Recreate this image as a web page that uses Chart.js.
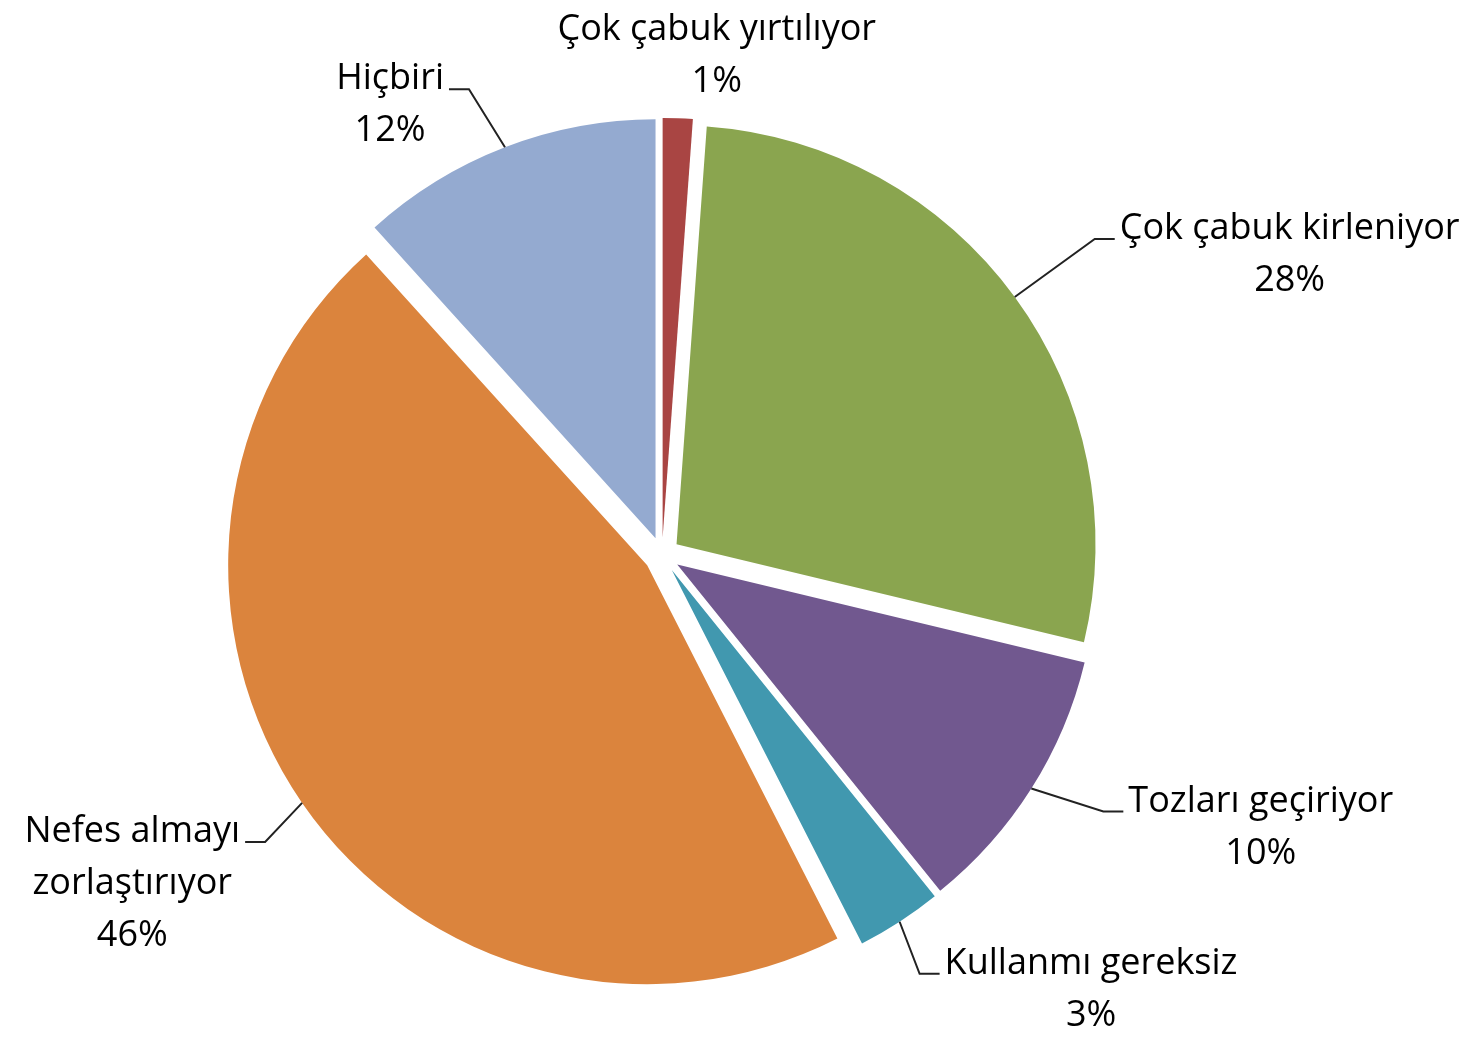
<!DOCTYPE html>
<html>
<head>
<meta charset="utf-8">
<script src="https://cdn.jsdelivr.net/npm/chart.js@4"></script>
<style>
  html, body { margin: 0; padding: 0; background: #fff; }
  #wrap { width: 1483px; height: 1041px; }
</style>
</head>
<body>
<div id="wrap"><canvas id="maskChart"></canvas></div>
<script>
// slices, clockwise from 12 o'clock
const categories = [
  'Çok çabuk yırtılıyor',
  'Çok çabuk kirleniyor',
  'Tozları geçiriyor',
  'Kullanmı gereksiz',
  ['Nefes almayı', 'zorlaştırıyor'],
  'Hiçbiri'
];
const shares = [1.15, 27.6, 10.45, 3.3, 45.8, 11.7];
const sliceColors = ['#A94543', '#8AA54F', '#71588F', '#4198AF', '#DB843D', '#94AAD0'];

// manual label placement, like in the Excel original:
// elbow of the leader line relative to the slice's outer edge
const labelOffsets = [[39, -37], [80, -58], [72, 23], [20, 52], [-37, 39], [-36, -58]];
const labelSides = ['top', 'right', 'right', 'right', 'left', 'left'];

const EXPLODE = 18;
const FONT = '36px "Open Sans"';
const LINE_H = 52;
const TAIL = 20;
const GAP = 5;

// every slice pulled out from the centre by the same distance
const explodeSlices = {
  id: 'explodeSlices',
  beforeDatasetDraw(chart, args) {
    const ctx = chart.ctx;
    args.meta.data.forEach(arc => {
      const mid = (arc.startAngle + arc.endAngle) / 2;
      ctx.save();
      ctx.translate(Math.cos(mid) * EXPLODE, Math.sin(mid) * EXPLODE);
      arc.draw(ctx);
      ctx.restore();
    });
    return false;
  }
};

const pieLabels = {
  id: 'pieLabels',
  afterDatasetsDraw(chart) {
    const ctx = chart.ctx;
    const meta = chart.getDatasetMeta(0);
    const total = shares.reduce((a, b) => a + b, 0);
    ctx.save();
    ctx.font = FONT;
    ctx.fillStyle = '#000';
    ctx.strokeStyle = '#222';
    ctx.lineWidth = 2;
    ctx.textAlign = 'center';
    ctx.textBaseline = 'middle';
    meta.data.forEach((arc, i) => {
      const mid = (arc.startAngle + arc.endAngle) / 2;
      const ax = arc.x + Math.cos(mid) * (EXPLODE + arc.outerRadius);
      const ay = arc.y + Math.sin(mid) * (EXPLODE + arc.outerRadius);
      const ex = ax + labelOffsets[i][0];
      const ey = ay + labelOffsets[i][1];
      const lines = [].concat(categories[i], Math.round(shares[i] / total * 100) + '%');
      const w = Math.max(...lines.map(t => ctx.measureText(t).width));
      let bx, firstY;
      if (labelSides[i] === 'top') {
        bx = ex;
        firstY = ey - (lines.length - 1) * LINE_H;
      } else {
        const dir = labelSides[i] === 'right' ? 1 : -1;
        const tx = ex + dir * TAIL;
        ctx.beginPath();
        ctx.moveTo(ax, ay);
        ctx.lineTo(ex, ey);
        ctx.lineTo(tx, ey);
        ctx.stroke();
        bx = tx + dir * (GAP + w / 2);
        firstY = ey - 10;
      }
      lines.forEach((t, k) => ctx.fillText(t, bx, firstY + k * LINE_H));
    });
    ctx.restore();
  }
};

new Chart(document.getElementById('maskChart'), {
  type: 'pie',
  data: {
    labels: categories,
    datasets: [{
      data: shares,
      backgroundColor: sliceColors,
      borderWidth: 0
    }]
  },
  options: {
    responsive: true,
    maintainAspectRatio: false,
    animation: false,
    events: [],
    radius: 419,
    layout: { padding: { left: 0, right: 159, top: 69, bottom: 0 } },
    plugins: {
      legend: { display: false },
      tooltip: { enabled: false }
    }
  },
  plugins: [explodeSlices, pieLabels]
});
</script>
</body>
</html>
